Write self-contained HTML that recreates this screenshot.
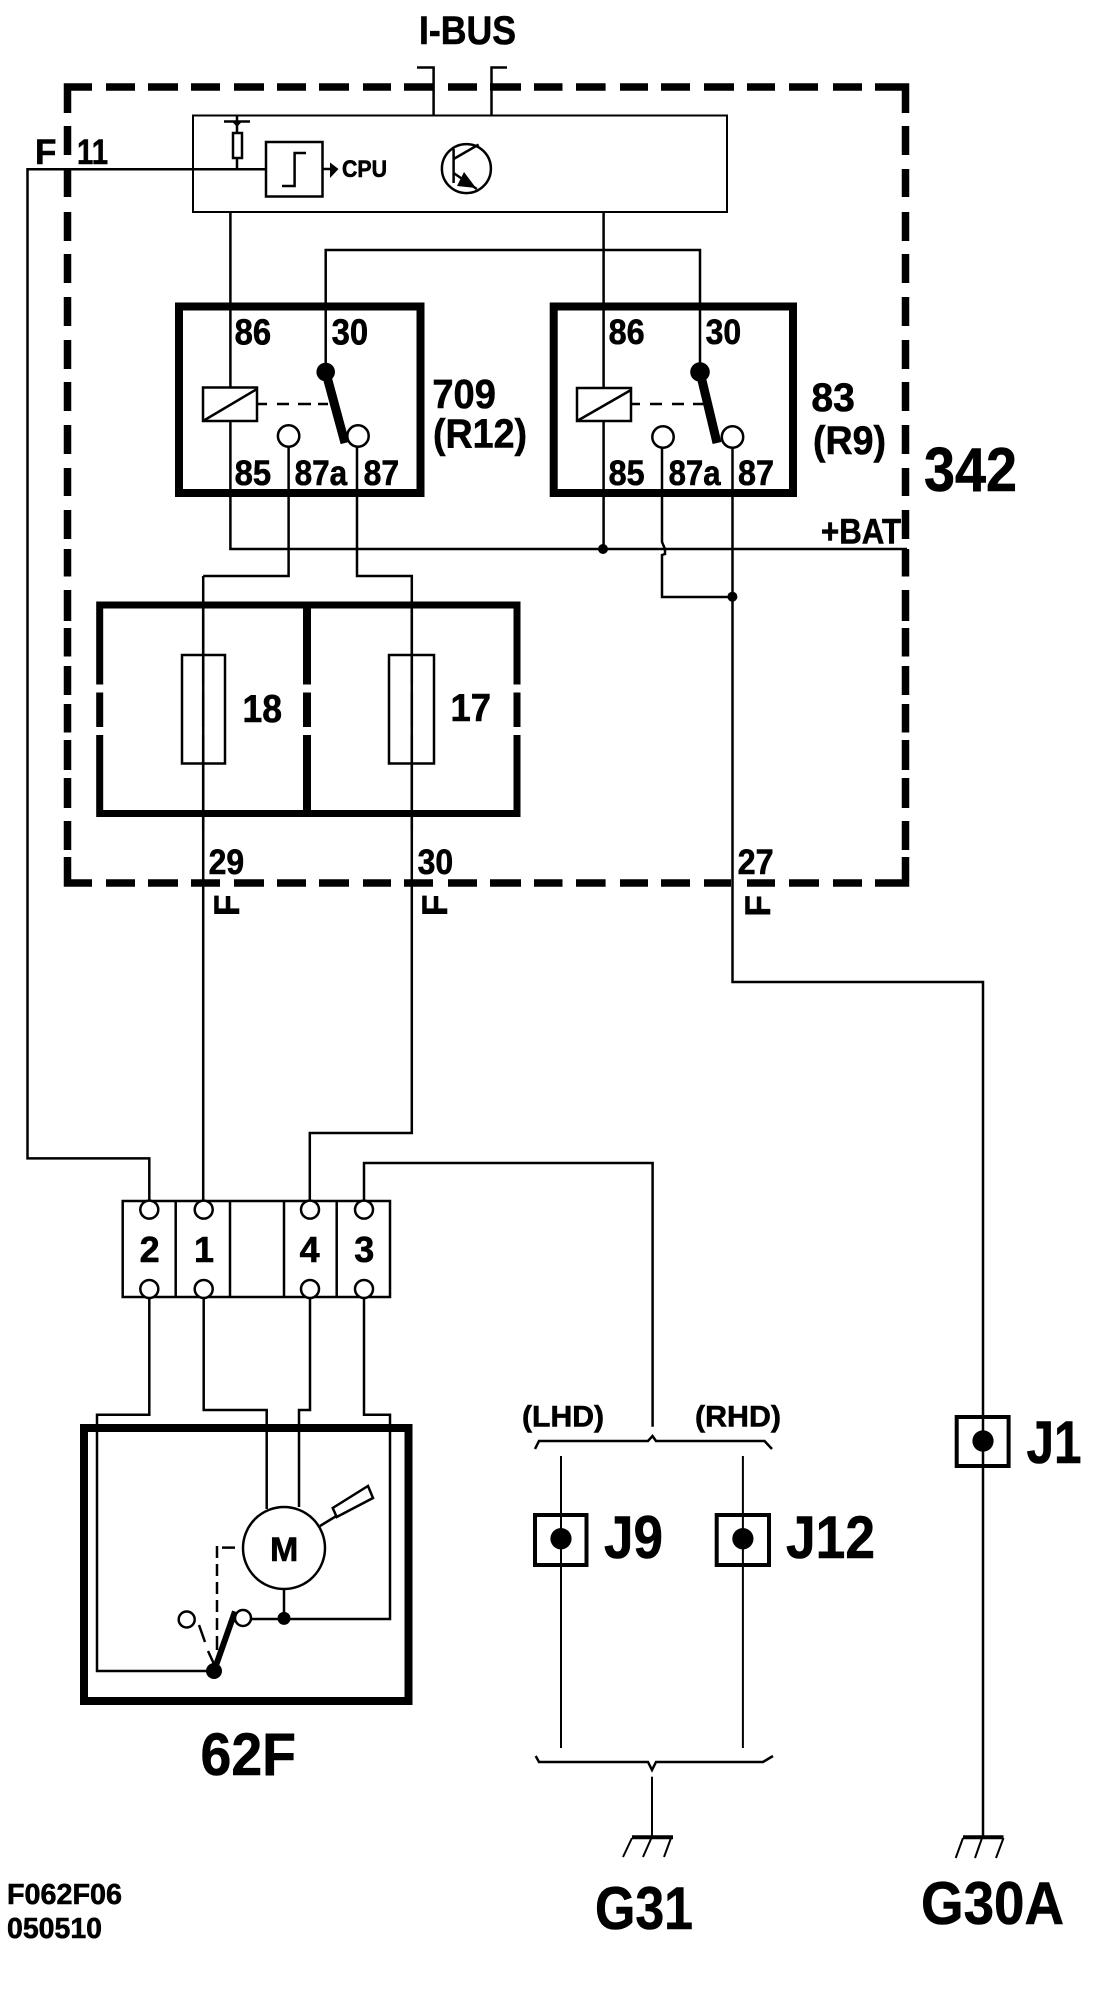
<!DOCTYPE html>
<html><head><meta charset="utf-8"><style>
html,body{margin:0;padding:0;background:#fff}
svg{display:block}
text{font-family:"Liberation Sans",sans-serif;font-weight:bold;fill:#000;stroke:#000;stroke-width:.6}
.w{fill:none;stroke:#000;stroke-width:2.5;stroke-linejoin:miter}
.t{fill:none;stroke:#000;stroke-width:2}
.f{fill:none;stroke:#000;stroke-width:8}
.c{fill:#fff;stroke:#000;stroke-width:2.5}
.d{fill:#000}
</style></head><body>
<svg width="1120" height="2000" viewBox="0 0 1120 2000" xmlns="http://www.w3.org/2000/svg">
<rect width="1120" height="2000" fill="#fff"/>

<!-- dashed enclosure 342 -->
<path fill="none" stroke="#000" stroke-width="7.5" d="
M67.5 113V87H92 M106 87H135 M148 87H178 M191 87H220 M234 87H264 M277 87H306 M319 87H349 M363 87H391 M404 87H433 M448 87H477 M490 87H521 M534 87H562.5 M576 87H605.6 M620 87H648 M661 87H690 M704 87H734 M747 87H775 M789 87H818 M833 87H862 M875 87H905.5V113
M67.5 126V155 M67.5 169V197 M67.5 212V241 M67.5 254V283 M67.5 297V326 M67.5 340V369 M67.5 382V411 M67.5 425V454 M67.5 468V496 M67.5 510V539 M67.5 549V576.5 M67.5 590V621 M67.5 628V656.5 M67.5 666V695 M67.5 704V732.5 M67.5 740V770 M67.5 778V808 M67.5 821V850
M905.5 126V155 M905.5 169V197 M905.5 212V241 M905.5 254V283 M905.5 297V326 M905.5 340V369 M905.5 382V411 M905.5 425V454 M905.5 468V496 M905.5 510V539 M905.5 549V576.5 M905.5 590V621 M905.5 628V656.5 M905.5 666V695 M905.5 704V732.5 M905.5 740V770 M905.5 778V808 M905.5 821V850
M67.5 857V883H92 M106 883H135 M148 883H178 M191 883H220 M234 883H264 M277 883H306 M319 883H349 M363 883H391 M404 883H433 M448 883H477 M490 883H521 M534 883H562.5 M576 883H605.6 M620 883H648 M661 883H690 M704 883H731 M747 883H775 M789 883H819 M833 883H862 M875 883H905.5V857"/>

<!-- I-BUS -->
<path class="w" d="M417 67.5H433.6V115 M507 67.5H491.5V115"/>
<text x="419" y="44" font-size="40" textLength="97" lengthAdjust="spacingAndGlyphs">I-BUS</text>

<!-- control module -->
<rect x="193" y="115.5" width="534" height="96.5" class="t"/>
<path class="w" d="M266 169.3H27.5V1158.4H149.3V1201"/>
<text x="35" y="164" font-size="35">F</text>
<text x="77" y="164" font-size="35" textLength="31" lengthAdjust="spacingAndGlyphs">11</text>
<!-- pull-up resistor -->
<path class="w" d="M224 121.5H250 M237 115.5V133 M237 158V169"/>
<path class="d" d="M232 121.5H242L237 127Z"/>
<rect x="233" y="133" width="9" height="25" fill="#fff" stroke="#000" stroke-width="2.5"/>
<!-- schmitt -->
<rect x="266" y="142" width="56.5" height="54.5" fill="#fff" stroke="#000" stroke-width="2.5"/>
<path class="w" d="M282 186H294.6V153H306 M322.5 169H331"/>
<path class="d" d="M330 162.5L338.5 169L330 178Z"/>
<text x="342" y="177" font-size="24" textLength="45" lengthAdjust="spacingAndGlyphs">CPU</text>
<!-- transistor -->
<circle cx="466.4" cy="168.6" r="24.5" class="c" fill="none"/>
<path class="w" d="M453.6 149V183 M453.6 159L478.6 144.6 M453.6 173L476.8 189"/>
<path class="d" d="M464 172L476 188L457 186Z"/>

<!-- relay 709 -->
<rect x="179" y="306.5" width="241.5" height="186.5" class="f" fill="none"/>
<path class="w" d="M230.4 212V388 M230.4 421V549H907 M325.7 372V250H700V372"/>
<rect x="203" y="387.5" width="54" height="33.5" fill="#fff" stroke="#000" stroke-width="2.5"/>
<path class="w" d="M203 421L257 389"/>
<path class="w" d="M257 404H267 M277 404H289 M298 404H311 M318 404H328"/>
<path fill="none" stroke="#000" stroke-width="9" d="M325.7 372L345 443"/>
<circle cx="325.7" cy="372" r="9.3" class="d"/>
<circle cx="288.6" cy="436" r="10.7" class="c"/>
<circle cx="358" cy="436" r="10.7" class="c"/>
<path class="w" d="M288.6 447V576H203.2 M203.2 576V1201 M357 447V576H411.8V1133H309.8V1201"/>
<text x="234.6" y="344.5" font-size="36" textLength="36.5" lengthAdjust="spacingAndGlyphs">86</text>
<text x="331.6" y="344.5" font-size="36" textLength="36.5" lengthAdjust="spacingAndGlyphs">30</text>
<text x="234.6" y="485" font-size="35" textLength="36.5" lengthAdjust="spacingAndGlyphs">85</text>
<text x="294.6" y="485" font-size="35" textLength="52.5" lengthAdjust="spacingAndGlyphs">87a</text>
<text x="363.6" y="485" font-size="35" textLength="35.5" lengthAdjust="spacingAndGlyphs">87</text>
<text x="432.4" y="408" font-size="41" textLength="63.5" lengthAdjust="spacingAndGlyphs">709</text>
<text x="433" y="447.5" font-size="41" textLength="94" lengthAdjust="spacingAndGlyphs">(R12)</text>

<!-- relay 83 -->
<rect x="553.7" y="306.5" width="239.3" height="186.5" class="f" fill="none"/>
<path class="w" d="M603.6 212V388 M603.6 421V549"/>
<rect x="577" y="388" width="54" height="33" fill="#fff" stroke="#000" stroke-width="2.5"/>
<path class="w" d="M577 421L631 390"/>
<path class="w" d="M631 404H640 M650 404H662 M672 404H684 M693 404H704"/>
<path fill="none" stroke="#000" stroke-width="9" d="M700 372L717 443"/>
<circle cx="700" cy="372" r="9.8" class="d"/>
<circle cx="663" cy="437" r="10.7" class="c"/>
<circle cx="732.5" cy="437" r="10.7" class="c"/>
<path class="w" d="M662 448V542L665 549V554L662 555V597H732.5 M732.5 448V982H983V1837"/>
<circle cx="603" cy="549" r="5" class="d"/>
<circle cx="732.4" cy="596.7" r="5" class="d"/>
<text x="608.6" y="344" font-size="35" textLength="36" lengthAdjust="spacingAndGlyphs">86</text>
<text x="705.6" y="344" font-size="35" textLength="35.5" lengthAdjust="spacingAndGlyphs">30</text>
<text x="608.6" y="485" font-size="35" textLength="36" lengthAdjust="spacingAndGlyphs">85</text>
<text x="668.6" y="485" font-size="35" textLength="52" lengthAdjust="spacingAndGlyphs">87a</text>
<text x="738" y="485" font-size="35" textLength="36" lengthAdjust="spacingAndGlyphs">87</text>
<text x="811.4" y="411" font-size="40" textLength="43.5" lengthAdjust="spacingAndGlyphs">83</text>
<text x="813" y="454" font-size="40" textLength="73" lengthAdjust="spacingAndGlyphs">(R9)</text>
<text x="924" y="491" font-size="62" textLength="93" lengthAdjust="spacingAndGlyphs">342</text>
<text x="821" y="543.5" font-size="35" textLength="80" lengthAdjust="spacingAndGlyphs">+BAT</text>

<!-- fuses -->
<rect x="99.7" y="605" width="417.3" height="208.5" fill="none" stroke="#000" stroke-width="7"/>
<path fill="none" stroke="#000" stroke-width="8" d="M307 605V813"/>
<path stroke="#fff" stroke-width="8" d="M94 688.5H522 M94 731H522"/>
<rect x="182" y="655" width="43" height="108.5" fill="none" stroke="#000" stroke-width="2.5"/>
<rect x="389" y="655" width="45" height="108.5" fill="none" stroke="#000" stroke-width="2.5"/>
<path class="w" d="M203.2 600V830 M411.8 600V830"/>
<text x="242.5" y="722" font-size="39" textLength="39.5" lengthAdjust="spacingAndGlyphs">18</text>
<text x="450.5" y="721" font-size="39" textLength="40.5" lengthAdjust="spacingAndGlyphs">17</text>
<text x="208.6" y="874" font-size="35" textLength="35.5" lengthAdjust="spacingAndGlyphs">29</text>
<text x="417.6" y="874" font-size="35" textLength="35.5" lengthAdjust="spacingAndGlyphs">30</text>
<text x="737.6" y="874" font-size="35" textLength="36" lengthAdjust="spacingAndGlyphs">27</text>
<text transform="translate(239 916) rotate(-90)" font-size="35">F</text>
<text transform="translate(447 916) rotate(-90)" font-size="35">F</text>
<text transform="translate(770 916.5) rotate(-90)" font-size="35">F</text>

<!-- terminal block -->
<path class="w" d="M364 1201V1163H652.6V1426.7"/>
<rect x="122.7" y="1201" width="267.3" height="96" class="c"/>
<path class="w" d="M175.7 1201V1297 M230 1201V1297 M284 1201V1297 M336.7 1201V1297"/>
<g class="c">
<circle cx="149.3" cy="1209.6" r="9"/><circle cx="203.7" cy="1209.6" r="9"/><circle cx="310" cy="1209.6" r="9"/><circle cx="364" cy="1209.6" r="9"/>
<circle cx="149.3" cy="1289" r="9"/><circle cx="203.7" cy="1289" r="9"/><circle cx="310" cy="1289" r="9"/><circle cx="364" cy="1289" r="9"/>
</g>
<text x="139.6" y="1262" font-size="36">2</text>
<text x="194" y="1262" font-size="36">1</text>
<text x="299.6" y="1262" font-size="36">4</text>
<text x="354.3" y="1262" font-size="36">3</text>

<!-- motor 62F -->
<rect x="84" y="1428" width="324.5" height="273" class="f" fill="none"/>
<path class="w" d="M149.3 1297V1414.8H97V1671H214 M203.7 1297V1410H266.7V1509 M310 1297V1410H299V1507 M364 1297V1414.8H390V1619H251.7 M284 1590V1618"/>
<circle cx="284" cy="1548" r="41" fill="#fff" stroke="#000" stroke-width="2.5"/>
<text x="270" y="1561" font-size="34">M</text>
<path class="w" d="M320 1526L338 1515"/>
<path fill="#fff" stroke="#000" stroke-width="2.5" d="M332.7 1508L368 1486L373 1498L336.7 1517Z"/>
<path class="w" d="M235 1547.6H222 M217 1546V1558 M217 1564V1576 M217 1582V1594 M217 1600V1612 M217 1618V1630 M217 1636V1650"/>
<circle cx="284" cy="1618.4" r="6.5" class="d"/>
<circle cx="243" cy="1618" r="8" class="c"/>
<circle cx="186.7" cy="1619.5" r="8" class="c"/>
<path fill="none" stroke="#000" stroke-width="6" d="M214 1671L235 1611.5"/>
<path class="w" d="M199 1625L205 1642 M208 1651L214 1664"/>
<circle cx="214" cy="1671" r="8" class="d"/>
<text x="200.5" y="1775" font-size="60" textLength="95.5" lengthAdjust="spacingAndGlyphs">62F</text>

<!-- LHD / RHD -->
<text x="522" y="1426.7" font-size="30" textLength="82" lengthAdjust="spacingAndGlyphs">(LHD)</text>
<text x="695" y="1426.7" font-size="30" textLength="86" lengthAdjust="spacingAndGlyphs">(RHD)</text>
<path class="w" d="M535 1449L539 1441H648L652.5 1436L656 1441H764.5L772 1449"/>
<path class="t" d="M561 1456V1748 M742.9 1456V1748"/>
<rect x="535" y="1515" width="51.5" height="50" fill="none" stroke="#000" stroke-width="4"/>
<rect x="716.7" y="1515" width="52.3" height="50" fill="none" stroke="#000" stroke-width="4"/>
<rect x="956.7" y="1417" width="51.9" height="49" fill="none" stroke="#000" stroke-width="4"/>
<ellipse cx="561" cy="1538.7" rx="10.6" ry="10.7" class="d"/>
<ellipse cx="742.9" cy="1538.7" rx="10.6" ry="10.7" class="d"/>
<ellipse cx="983" cy="1441" rx="10.6" ry="10.7" class="d"/>
<text x="604" y="1558" font-size="60" textLength="59" lengthAdjust="spacingAndGlyphs">J9</text>
<text x="786" y="1558" font-size="60" textLength="89" lengthAdjust="spacingAndGlyphs">J12</text>
<text x="1026.5" y="1463" font-size="60" textLength="55" lengthAdjust="spacingAndGlyphs">J1</text>

<!-- lower brace and grounds -->
<path class="w" d="M535.7 1756L539 1762H648L652 1770L656 1762H763L773 1756"/>
<path class="t" d="M652 1776.7V1837"/>
<path fill="none" stroke="#000" stroke-width="4" d="M632 1837.3H673 M963 1837.3H1003.5"/>
<path class="t" d="M632 1838L623 1857 M651.4 1838L643 1857 M671 1838L664 1857 M963 1838L955.7 1858 M982 1838L975 1858 M1003.5 1838L996 1858"/>
<text x="595" y="1929" font-size="60" textLength="98" lengthAdjust="spacingAndGlyphs">G31</text>
<text x="921" y="1924" font-size="60" textLength="143" lengthAdjust="spacingAndGlyphs">G30A</text>
<text x="7" y="1904" font-size="29" textLength="115" lengthAdjust="spacingAndGlyphs">F062F06</text>
<text x="7" y="1938" font-size="29" textLength="95" lengthAdjust="spacingAndGlyphs">050510</text>
</svg>
</body></html>
